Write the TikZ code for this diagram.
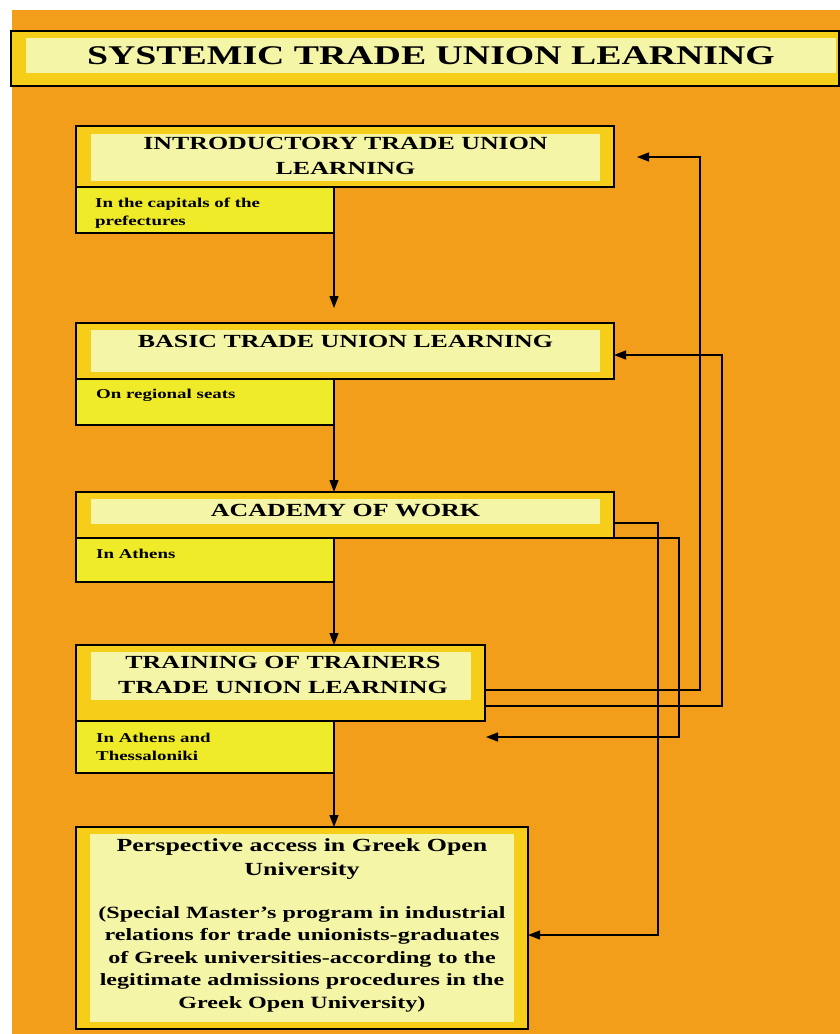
\documentclass[tikz,border=0pt]{standalone}
\usepackage{fontspec}
\setmainfont{Liberation Serif}
\newfontfamily\widefont[FakeStretch=1.4,BoldFont={Liberation Serif Bold}]{Liberation Serif}
\usetikzlibrary{arrows.meta,calc}
\definecolor{bgorange}{HTML}{F29E1A}
\definecolor{outeryel}{HTML}{F6CE1A}
\definecolor{innerlight}{HTML}{F5F5A8}
\definecolor{subyel}{HTML}{F0EB28}
\tikzset{
  outerbox/.style={draw=black, line width=1.2pt, fill=outeryel, anchor=north west, inner sep=0pt, outer sep=0pt},
  innerbox/.style={fill=innerlight, anchor=north west, inner sep=0pt, outer sep=0pt},
  subbox/.style={draw=black, line width=1.2pt, fill=subyel, anchor=north west, inner sep=0pt, outer sep=0pt},
  titletext/.style={font={\widefont\bfseries\fontsize{27}{30}\selectfont}, inner sep=0pt, anchor=base},
  headtext/.style={font={\widefont\bfseries\fontsize{18.5}{25}\selectfont}, inner sep=0pt, anchor=base, align=center},
  subtext/.style={font={\widefont\bfseries\fontsize{13.5}{18}\selectfont}, inner sep=0pt, anchor=base west, align=left},
  bodytext/.style={font={\widefont\bfseries\fontsize{18.5}{22.5}\selectfont}, inner sep=0pt, anchor=base, align=center},
  smallbody/.style={font={\widefont\bfseries\fontsize{17.2}{22.5}\selectfont}, inner sep=0pt, anchor=base, align=center},
  conn/.style={draw=black, line width=1.2pt},
  arr/.style={conn, -{Triangle[length=12pt,width=9pt]}},
}
\begin{document}
\begin{tikzpicture}[x=1pt,y=-1pt]
\useasboundingbox (0,0) rectangle (840,1034);
\fill[bgorange] (12,10) rectangle (840,1034);

% title
\node[outerbox, minimum width=828pt, minimum height=55pt] (title) at (11,31) {};
\node[innerbox, minimum width=810pt, minimum height=35pt] (titlein) at (26,38) {};
\node[titletext] (titlet) at (431,64) {SYSTEMIC TRADE UNION LEARNING};

% box 1
\node[outerbox, minimum width=538pt, minimum height=61pt] (b1) at (76,126) {};
\node[innerbox, minimum width=509pt, minimum height=47pt] (i1) at (91,134) {};
\node[subbox, minimum width=258pt, minimum height=46pt] (s1) at (76,187) {};
\node[headtext] (h1) at (345.5,174.5) {INTRODUCTORY TRADE UNION\\LEARNING};
\node[subtext] (t1) at (95,225) {In the capitals of the\\prefectures};

% box 2
\node[outerbox, minimum width=538pt, minimum height=56pt] (b2) at (76,323) {};
\node[innerbox, minimum width=509pt, minimum height=42pt] (i2) at (91,330) {};
\node[subbox, minimum width=258pt, minimum height=46pt] (s2) at (76,379) {};
\node[headtext] (h2) at (345.5,347.5) {BASIC TRADE UNION LEARNING};
\node[subtext] (t2) at (96,398) {On regional seats};

% box 3
\node[outerbox, minimum width=538pt, minimum height=46pt] (b3) at (76,492) {};
\node[innerbox, minimum width=509pt, minimum height=25pt] (i3) at (91,499) {};
\node[subbox, minimum width=258pt, minimum height=44pt] (s3) at (76,538) {};
\node[headtext] (h3) at (345.5,516.5) {ACADEMY OF WORK};
\node[subtext] (t3) at (96,558) {In Athens};

% box 4
\node[outerbox, minimum width=409pt, minimum height=76pt] (b4) at (76,645) {};
\node[innerbox, minimum width=380pt, minimum height=48pt] (i4) at (91,652) {};
\node[subbox, minimum width=258pt, minimum height=52pt] (s4) at (76,721) {};
\node[headtext] (h4) at (283,693.5) {TRAINING OF TRAINERS\\TRADE UNION LEARNING};
\node[subtext] (t4) at (96,760) {In Athens and\\Thessaloniki};

% box 5
\node[outerbox, minimum width=452pt, minimum height=202pt] (b5) at (76,827) {};
\node[innerbox, minimum width=424pt, minimum height=188pt] (i5) at (90,834) {};
\node[bodytext] (h5) at (302,875) {Perspective access in Greek Open\\[1.5pt]University};
\node[smallbody] (t5) at (302,1008) {(Special Master’s program in industrial\\relations for trade unionists-graduates\\of Greek universities-according to the\\legitimate admissions procedures in the\\Greek Open University)};

% vertical arrows
\draw[arr] (s1.south east) -- ([yshift=15pt]b2.north -| s1.south east);
\draw[arr] (s2.south east) -- (b3.north -| s2.south east);
\draw[arr] (s3.south east) -- (b4.north -| s3.south east);
\draw[arr] (s4.south east) -- (b5.north -| s4.south east);

% feedback connectors
\coordinate (c1) at ($(b1.east)+(23,0)$);
\draw[arr] ($(b4.north east)+(0,45)$) -| (700,157) -- (c1 |- 0,157);
\draw[arr] ($(b4.north east)+(0,61)$) -| (722,355) -- (b2.east |- 0,355);
\draw[arr] ($(b3.north east)+(0,31)$) -| (658,935) -- (b5.east |- 0,935);
\coordinate (c4) at ($(b4.south east)+(1,16)$);
\draw[arr] (b3.south east) -| (679,737) -- (c4);
\end{tikzpicture}
\end{document}
